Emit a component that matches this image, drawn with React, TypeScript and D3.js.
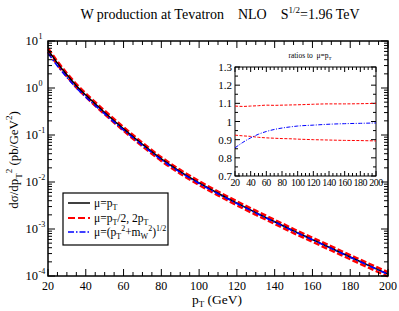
import React from 'react'
import * as d3 from 'd3'

// pT grid (GeV) and central curve mu = pT, log10 of dsigma/dpT^2
const ptValues = [20, 25, 30, 35, 40, 50, 60, 70, 80, 90, 100, 110, 120, 130, 140, 150, 160, 170, 180, 190, 200]
const centralLog10 = [0.81, 0.53, 0.28, 0.05, -0.15, -0.52, -0.87, -1.2, -1.51, -1.78, -2.02, -2.24, -2.45, -2.65, -2.845, -3.04, -3.225, -3.41, -3.595, -3.78, -3.96]

// ratios to mu = pT (inset)
const ratioPt = [20, 30, 40, 50, 60, 70, 80, 90, 100, 120, 140, 160, 180, 200]
const ratioHalf = [1.085, 1.083, 1.085, 1.087, 1.09, 1.089, 1.09, 1.091, 1.092, 1.095, 1.097, 1.097, 1.098, 1.1]
const ratioDouble = [0.925, 0.921, 0.918, 0.913, 0.91, 0.908, 0.906, 0.905, 0.903, 0.9, 0.898, 0.896, 0.895, 0.893]
const ratioMw = [0.855, 0.885, 0.91, 0.93, 0.945, 0.956, 0.964, 0.97, 0.975, 0.98, 0.985, 0.988, 0.99, 0.992]

const xTicks = [20, 40, 60, 80, 100, 120, 140, 160, 180, 200]
const yExponents = [-4, -3, -2, -1, 0, 1]
const insetYTicks = [0.7, 0.8, 0.9, 1, 1.1, 1.2, 1.3]

const FONT = '"Liberation Serif", "DejaVu Serif", serif'

const W = 399, H = 311
const m = { left: 48, right: 388, top: 41, bottom: 276 }
const ins = { left: 235, right: 376, top: 67, bottom: 176 }

const App = () => {
    const x = d3.scaleLinear().domain([20, 200]).range([m.left, m.right])
    const y = d3.scaleLog().domain([1e-4, 10]).range([m.bottom, m.top])
    const xi = d3.scaleLinear().domain([20, 200]).range([ins.left, ins.right])
    const yi = d3.scaleLinear().domain([0.7, 1.3]).range([ins.bottom, ins.top])

    const central = ptValues.map((p, i) => ({ p, v: Math.pow(10, centralLog10[i]) }))
    const ratioAt = (arr: number[], p: number) => d3.scaleLinear().domain(ratioPt).range(arr)(p)
    const scaled = (arr: number[]) => central.map(d => ({ p: d.p, v: d.v * ratioAt(arr, d.p) }))

    const mainLine = d3.line<{ p: number, v: number }>()
        .x(d => x(d.p)).y(d => y(d.v)).curve(d3.curveMonotoneX)
    const insetLine = d3.line<number>()
        .x((d, i) => xi(ratioPt[i])).y(d => yi(d)).curve(d3.curveMonotoneX)

    // tick marks, on all four sides, pointing inward
    const ticks: JSX.Element[] = []
    let k = 0
    for (let p = 20; p <= 200; p += 5) {
        const len = p % 20 === 0 ? 7 : 4
        ticks.push(<line key={k++} x1={x(p)} x2={x(p)} y1={m.bottom} y2={m.bottom - len} />)
        ticks.push(<line key={k++} x1={x(p)} x2={x(p)} y1={m.top} y2={m.top + len} />)
        const li = p % 20 === 0 ? 5 : 3
        ticks.push(<line key={k++} x1={xi(p)} x2={xi(p)} y1={ins.bottom} y2={ins.bottom - li} />)
        ticks.push(<line key={k++} x1={xi(p)} x2={xi(p)} y1={ins.top} y2={ins.top + li} />)
    }
    for (let e = -4; e <= 0; e++) {
        for (let j = 1; j <= 9; j++) {
            const v = j * Math.pow(10, e)
            const len = j === 1 ? 7 : 4
            ticks.push(<line key={k++} x1={m.left} x2={m.left + len} y1={y(v)} y2={y(v)} />)
            ticks.push(<line key={k++} x1={m.right} x2={m.right - len} y1={y(v)} y2={y(v)} />)
        }
    }
    ticks.push(<line key={k++} x1={m.left} x2={m.left + 7} y1={y(10)} y2={y(10)} />)
    ticks.push(<line key={k++} x1={m.right} x2={m.right - 7} y1={y(10)} y2={y(10)} />)
    for (let r = 0.7; r <= 1.3001; r += 0.05) {
        const major = Math.abs(Math.round(r * 10) - r * 10) < 1e-6
        const len = major ? 5 : 3
        ticks.push(<line key={k++} x1={ins.left} x2={ins.left + len} y1={yi(r)} y2={yi(r)} />)
        ticks.push(<line key={k++} x1={ins.right} x2={ins.right - len} y1={yi(r)} y2={yi(r)} />)
    }

    return (
        <svg width={W} height={H} style={{ position: 'absolute', left: 0, top: 0, background: '#fff', fontFamily: FONT }}>
            {/* title */}
            <text x={220} y={19} fontSize={14} textAnchor="middle">
                W production at Tevatron{'\u00a0\u00a0\u00a0\u00a0'}NLO{'\u00a0\u00a0\u00a0\u00a0'}S
                <tspan dy={-6} fontSize={9}>1/2</tspan>
                <tspan dy={6}>=1.96 TeV</tspan>
            </text>

            {/* main curves */}
            <path d={mainLine(scaled(ratioHalf)) || ''} fill="none" stroke="#ff0000" strokeWidth={2.4} strokeDasharray="6,2.5" />
            <path d={mainLine(scaled(ratioDouble)) || ''} fill="none" stroke="#ff0000" strokeWidth={2.4} strokeDasharray="6,2.5" />
            <path d={mainLine(central) || ''} fill="none" stroke="#000" strokeWidth={1.5} />
            <path d={mainLine(scaled(ratioMw)) || ''} fill="none" stroke="#0000ff" strokeWidth={1.6} strokeDasharray="6,2,1.5,2" />

            {/* frames and ticks */}
            <rect x={ins.left} y={ins.top} width={ins.right - ins.left} height={ins.bottom - ins.top} fill="#fff" />
            <g stroke="#000" strokeWidth={1}>{ticks}</g>
            <rect x={m.left} y={m.top} width={m.right - m.left} height={m.bottom - m.top} fill="none" stroke="#000" strokeWidth={1.5} />
            <rect x={ins.left} y={ins.top} width={ins.right - ins.left} height={ins.bottom - ins.top} fill="none" stroke="#000" strokeWidth={1} />

            {/* main tick labels */}
            {xTicks.map(t => (
                <text key={'x' + t} x={x(t)} y={290} fontSize={12} textAnchor="middle">{t}</text>
            ))}
            {yExponents.map(e => (
                <text key={'y' + e} x={38} y={y(Math.pow(10, e)) + 4} fontSize={12.5} textAnchor="end">
                    10
                </text>
            ))}
            {yExponents.map(e => (
                <text key={'ye' + e} x={38.5} y={y(Math.pow(10, e)) - 2} fontSize={8}>
                    {e < 0 ? '-' + (-e) : String(e)}
                </text>
            ))}

            {/* axis titles */}
            <text x={217} y={304} fontSize={13.5} textAnchor="middle">
                p<tspan dy={3} fontSize={9}>T</tspan><tspan dy={-3}> (GeV)</tspan>
            </text>
            <text transform="translate(18,160) rotate(-90)" fontSize={13} textAnchor="middle">
                dσ/dp<tspan dy={4} fontSize={9}>T</tspan><tspan dy={-10} fontSize={9}>2</tspan>
                <tspan dy={6}> (pb/GeV</tspan><tspan dy={-6} fontSize={9}>2</tspan><tspan dy={6}>)</tspan>
            </text>

            {/* inset */}
            <text x={310} y={58} fontSize={7.5} textAnchor="middle">
                ratios to{'\u00a0\u00a0'}μ=p<tspan dy={2} fontSize={5}>T</tspan>
            </text>
            <path d={insetLine(ratioHalf) || ''} fill="none" stroke="#ff0000" strokeWidth={1} strokeDasharray="3,1.5" />
            <path d={insetLine(ratioDouble) || ''} fill="none" stroke="#ff0000" strokeWidth={1} strokeDasharray="3,1.5" />
            <path d={insetLine(ratioMw) || ''} fill="none" stroke="#0000ff" strokeWidth={1} strokeDasharray="4,1.5,1,1.5" />
            {insetYTicks.map(t => (
                <text key={'iy' + t} x={ins.left - 3} y={yi(t) + 4} fontSize={11} textAnchor="end">{String(t)}</text>
            ))}
            {xTicks.map(t => (
                <text key={'ix' + t} x={xi(t)} y={ins.bottom + 10} fontSize={10} textAnchor="middle" letterSpacing={-0.5}>{t}</text>
            ))}

            {/* legend */}
            <rect x={63} y={193} width={105} height={52} fill="#fff" stroke="#000" strokeWidth={1.2} />
            <line x1={68} x2={90} y1={203} y2={203} stroke="#000" strokeWidth={1.5} />
            <line x1={68} x2={90} y1={218} y2={218} stroke="#ff0000" strokeWidth={2} strokeDasharray="7,3" />
            <line x1={68} x2={90} y1={232} y2={232} stroke="#0000ff" strokeWidth={1.6} strokeDasharray="6,2,1.5,2" />
            <g fontSize={11.5}>
                <text x={94} y={207}>μ=p<tspan dy={3} fontSize={8}>T</tspan></text>
                <text x={94} y={222}>μ=p<tspan dy={3} fontSize={8}>T</tspan><tspan dy={-3}>/2, 2p</tspan><tspan dy={3} fontSize={8}>T</tspan></text>
                <text x={94} y={236}>μ=(p<tspan dy={3} fontSize={8}>T</tspan><tspan dy={-8} fontSize={8}>2</tspan>
                    <tspan dy={5}>+m</tspan><tspan dy={3} fontSize={8}>W</tspan><tspan dy={-8} fontSize={8}>2</tspan>
                    <tspan dy={5}>)</tspan><tspan dy={-5} fontSize={8}>1/2</tspan></text>
            </g>
        </svg>
    )
}

export default App
